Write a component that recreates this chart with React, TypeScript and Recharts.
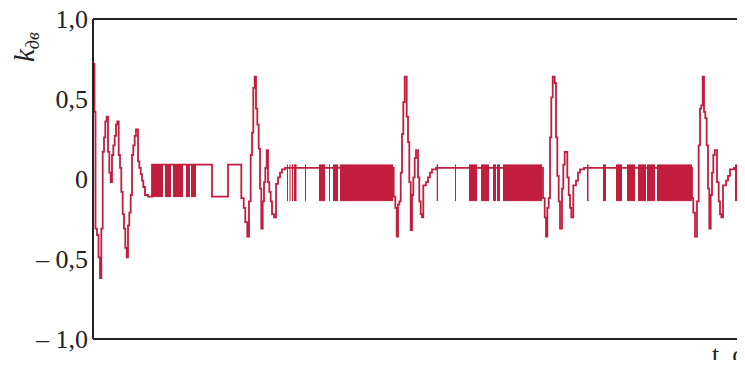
import React from 'react'
import { ComposedChart, Line, Area, XAxis, YAxis, ReferenceLine, Label } from 'recharts'

// t is in plot units (0..652 across the visible frame), k is the coefficient
const pulse1: [number, number][] = [
  [0, 0.72], [1.5, 0.42], [2.5, -0.31], [4, -0.35], [5.5, -0.49], [7, -0.62], [8.3, -0.31],
  [9.7, 0.17], [11, 0.26], [12.3, 0.36], [13.7, 0.39], [15, 0.17], [16.3, 0.04], [17.7, -0.02],
  [19, 0.15], [20.3, 0.21], [21.7, 0.27], [23, 0.34], [24.3, 0.36], [25.7, 0.15], [27, 0.07],
  [28.3, -0.08], [29.7, -0.22], [31, -0.31], [32.3, -0.43], [33.7, -0.49], [35, -0.29],
  [36.3, -0.21], [37.7, -0.1], [39, 0.15], [40.3, 0.21], [41.7, 0.27], [43, 0.31], [45, 0.11],
  [46.3, 0.07], [47.7, 0.03], [49, -0.01], [50.3, -0.05], [52, -0.1], [55, -0.11], [59, 0.09],
  [119, -0.11], [135, 0.09]
]

const pulse2: [number, number][] = [
  [148.3, -0.12], [150.7, -0.18], [152.3, -0.27], [154.3, -0.36], [156, -0.14], [157.7, 0.15],
  [159, 0.29], [160.3, 0.57], [161.7, 0.64], [163, 0.44], [164.3, 0.34], [165.7, 0.19],
  [167, -0.06], [168.3, -0.31], [169.7, -0.14], [171, -0.02], [172.3, 0.07], [173.7, 0.18],
  [175, -0.02], [176.3, -0.08], [177.7, -0.14], [179, -0.22], [181, -0.24], [183, -0.03],
  [185, 0.01], [187, 0.04], [189, 0.06], [192, 0.07]
]

const pulse3: [number, number][] = [
  [300.7, -0.11], [302.3, -0.18], [303.7, -0.36], [305, -0.16], [306.3, -0.14], [307.7, 0.04],
  [309, 0.28], [310.3, 0.48], [311.7, 0.64], [313.7, 0.39], [315, 0.23], [316.3, -0.02],
  [317.7, -0.32], [319, -0.1], [320.3, 0.01], [321.7, 0.13], [323, 0.18], [325, 0.01],
  [326.3, -0.14], [327.7, -0.22], [329, -0.24], [330.3, -0.04], [333, -0.02], [335, 0.01],
  [337, 0.04], [339, 0.06], [343, 0.07]
]

const pulse4: [number, number][] = [
  [450, -0.12], [451.7, -0.24], [453, -0.36], [454.3, -0.18], [455.7, -0.12], [457, 0.26],
  [458.3, 0.51], [459.7, 0.64], [461.7, 0.6], [463, 0.26], [464.3, 0.02], [465.7, -0.14],
  [467, -0.31], [469, -0.06], [470.3, 0.09], [471.7, 0.17], [474.3, 0.01], [475.7, -0.1],
  [477, -0.18], [478.3, -0.24], [480.3, -0.04], [483, -0.01], [485, 0.04], [487, 0.06],
  [491, 0.07]
]

const pulse5: [number, number][] = [
  [599, -0.12], [600.3, -0.21], [602, -0.36], [604, -0.14], [605.7, 0.21], [607, 0.44],
  [608.3, 0.46], [609.7, 0.64], [611, 0.42], [612.3, 0.38], [613.7, 0.21], [615, -0.06],
  [616.3, -0.31], [617.7, -0.1], [619, 0.04], [620.3, 0.15], [621.7, 0.18], [624, -0.02],
  [625.7, -0.14], [627, -0.22], [628.3, -0.24], [630, -0.04], [633, -0.01], [635, 0.02],
  [637, 0.06], [641, 0.07], [652, 0.07]
]

// chattering intervals [start, end] where k switches between the two levels
const chatter1: [number, number][] = [[59, 70], [72, 78], [80, 90], [93, 97], [98, 103]]
const chatter1Levels: [number, number] = [-0.11, 0.09]

const chatter2: [number, number][] = [
  [194, 195], [196.5, 197.5], [199, 200], [201, 203.5], [212, 213], [226, 232], [236, 237],
  [240, 245], [247, 300]
]
const chatter3: [number, number][] = [
  [343.7, 345], [362, 363], [376, 384], [388, 396], [400, 403], [404, 407], [410, 449]
]
const chatter4: [number, number][] = [
  [494, 495.5], [510, 513], [523, 529], [534, 542], [545, 553], [554, 562], [564, 599]
]
const chatter5: [number, number][] = [[642, 644]]
const chatterLevels: [number, number] = [-0.135, 0.088]

const yTicks = [-1, -0.5, 0, 0.5, 1]
const yTickLabels = ['\u2013 1,0', '\u2013 0,5', '0', '0,5', '1,0']

const RED = '#c21d3c'
const INK = '#222'
const SERIF = '"Liberation Serif", "DejaVu Serif", serif'

const signal = [...pulse1, ...pulse2, ...pulse3, ...pulse4, ...pulse5].map(([t, k]) => ({ t, k }))

const bands = [
  ...chatter1.map((b) => ({ b, lv: chatter1Levels })),
  ...[...chatter2, ...chatter3, ...chatter4, ...chatter5].map((b) => ({ b, lv: chatterLevels }))
]

export default function App() {
  return (
    <div style={{ position: 'relative', width: 737, height: 360, marginTop: -8, fontFamily: SERIF }}>
      <ComposedChart width={737} height={360} margin={{ top: 19, right: 0, bottom: 0, left: 0 }}>
        <XAxis
          type="number"
          dataKey="t"
          domain={[0, 652]}
          allowDataOverflow
          tick={false}
          tickLine={false}
          height={21}
          axisLine={{ stroke: INK, strokeWidth: 2 }}
        />
        <YAxis
          type="number"
          domain={[-1, 1]}
          ticks={yTicks}
          interval={0}
          width={85}
          tickSize={0}
          tickMargin={5}
          tickLine={false}
          axisLine={{ stroke: INK, strokeWidth: 2 }}
          tick={{ fontSize: 26, fill: INK, fontFamily: SERIF }}
          tickFormatter={(v: number) => yTickLabels[yTicks.indexOf(v)]}
        >
          <Label
            content={() => (
              <text transform="translate(26,62) rotate(-90)" fontFamily={SERIF} fill={INK}>
                <tspan fontSize={29} fontStyle="italic">k</tspan>
                <tspan fontSize={18} fontStyle="italic" dy={5}>дв</tspan>
              </text>
            )}
          />
        </YAxis>
        <ReferenceLine y={1} stroke={INK} strokeWidth={2} />
        {bands.map(({ b, lv }, i) => (
          <Area
            key={i}
            data={[{ t: b[0], r: lv }, { t: b[1], r: lv }]}
            dataKey="r"
            type="linear"
            stroke={RED}
            strokeWidth={1}
            fill={RED}
            fillOpacity={1}
            dot={false}
            activeDot={false}
            isAnimationActive={false}
          />
        ))}
        <Line
          data={signal}
          dataKey="k"
          type="stepAfter"
          stroke={RED}
          strokeWidth={1.8}
          dot={false}
          activeDot={false}
          isAnimationActive={false}
        />
      </ComposedChart>
      <div
        style={{
          position: 'absolute',
          left: 704,
          top: 342,
          fontSize: 26,
          lineHeight: '26px',
          color: INK,
          whiteSpace: 'nowrap'
        }}
      >
        t, c
      </div>
    </div>
  )
}
